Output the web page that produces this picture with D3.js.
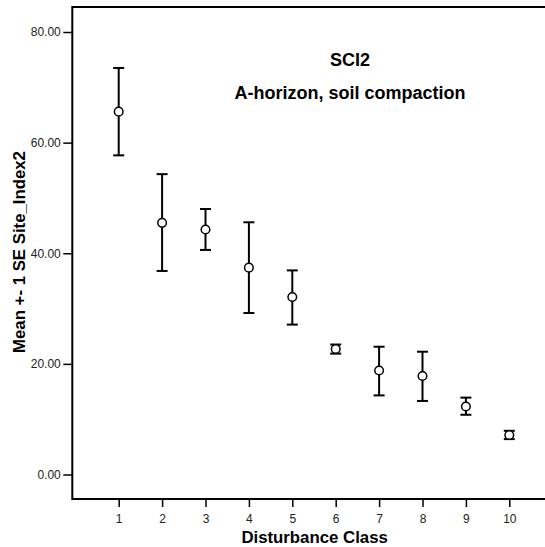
<!DOCTYPE html>
<html>
<head>
<meta charset="utf-8">
<script src="https://cdn.jsdelivr.net/npm/d3@7"></script>
<style>
  html, body { margin: 0; padding: 0; background: #fff; }
  svg { display: block; font-family: "Liberation Sans", Arial, sans-serif; }
</style>
</head>
<body>
<svg id="chart" width="545" height="547"></svg>
<script>
// Disturbance classes and mean ± 1 SE of Site_Index2
const classes = [1, 2, 3, 4, 5, 6, 7, 8, 9, 10];
const means   = [65.6, 45.5, 44.3, 37.4, 32.1, 22.7, 18.8, 17.8, 12.3, 7.15];
const upper   = [73.5, 54.3, 48.0, 45.6, 36.9, 23.5, 23.1, 22.2, 13.9, 7.9];
const lower   = [57.7, 36.8, 40.6, 29.2, 27.1, 21.85, 14.3, 13.3, 10.8, 6.4];
const yTicks  = [0, 20, 40, 60, 80];

const svg = d3.select("#chart");

const frame = { left: 72.3, top: 7, bottom: 499, right: 560 };

const x = d3.scaleLinear().domain([1, 10]).range([118.7, 509.3]);
const y = d3.scaleLinear().domain([0, 80]).range([474.5, 32]);

// Plot frame (open on the right, which runs past the page edge)
svg.append("rect")
  .attr("x", frame.left).attr("y", frame.top)
  .attr("width", frame.right - frame.left).attr("height", frame.bottom - frame.top)
  .attr("fill", "none").attr("stroke", "#000").attr("stroke-width", 2);

// Y axis
const yAxis = d3.axisLeft(y).tickValues(yTicks).tickFormat(d3.format(".2f")).tickSize(9).tickPadding(2.5);
const gy = svg.append("g").attr("transform", `translate(${frame.left},0)`).call(yAxis);
gy.select(".domain").remove();
gy.selectAll(".tick line").attr("stroke", "#000").attr("stroke-width", 1.5);
gy.selectAll(".tick text").attr("fill", "#222").style("font-size", "12px");

// X axis
const xAxis = d3.axisBottom(x).tickValues(classes).tickFormat(d3.format("d")).tickSize(8).tickPadding(7);
const gx = svg.append("g").attr("transform", `translate(0,${frame.bottom})`).call(xAxis);
gx.select(".domain").remove();
gx.selectAll(".tick line").attr("stroke", "#000").attr("stroke-width", 1.5);
gx.selectAll(".tick text").attr("fill", "#222").style("font-size", "12px");

// Error bars
const data = classes.map((c, i) => ({ c, m: means[i], hi: upper[i], lo: lower[i] }));
const capHalf = 5.5;
const bars = svg.append("g").attr("stroke", "#000").attr("stroke-width", 2);
bars.selectAll("line.stem").data(data).join("line").attr("class", "stem")
  .attr("x1", d => x(d.c)).attr("x2", d => x(d.c))
  .attr("y1", d => y(d.hi)).attr("y2", d => y(d.lo));
bars.selectAll("line.capHi").data(data).join("line").attr("class", "capHi")
  .attr("x1", d => x(d.c) - capHalf).attr("x2", d => x(d.c) + capHalf)
  .attr("y1", d => y(d.hi)).attr("y2", d => y(d.hi));
bars.selectAll("line.capLo").data(data).join("line").attr("class", "capLo")
  .attr("x1", d => x(d.c) - capHalf).attr("x2", d => x(d.c) + capHalf)
  .attr("y1", d => y(d.lo)).attr("y2", d => y(d.lo));

// Mean markers
svg.append("g").selectAll("circle").data(data).join("circle")
  .attr("cx", d => x(d.c)).attr("cy", d => y(d.m)).attr("r", 4.3)
  .attr("fill", "#fff").attr("stroke", "#000").attr("stroke-width", 1.5);

// Titles
svg.append("text").attr("x", 350).attr("y", 65.5).attr("text-anchor", "middle")
  .style("font-size", "18px").style("font-weight", "bold").text("SCI2");
svg.append("text").attr("x", 350).attr("y", 99).attr("text-anchor", "middle")
  .style("font-size", "18px").style("font-weight", "bold").text("A-horizon, soil compaction");

// Axis titles
svg.append("text").attr("x", 314.6).attr("y", 543).attr("text-anchor", "middle")
  .style("font-size", "16.8px").style("font-weight", "bold").text("Disturbance Class");
svg.append("text").attr("transform", "translate(25,252) rotate(-90)").attr("text-anchor", "middle")
  .style("font-size", "16.8px").style("font-weight", "bold").text("Mean +- 1 SE Site_Index2");
</script>
</body>
</html>
